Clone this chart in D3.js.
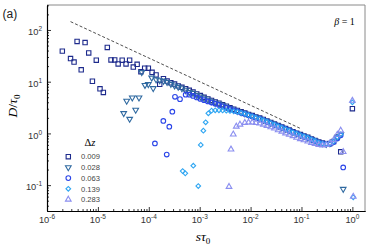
<!DOCTYPE html>
<html>
<head>
<meta charset="utf-8">
<script src="https://cdn.jsdelivr.net/npm/d3@7"></script>
<style>
  body { margin: 0; background: #fff; }
  svg { display: block; }
</style>
</head>
<body>
<div id="chart"></div>
<script>
// ---- values ----
const dzLabels = ["0.009", "0.028", "0.063", "0.139", "0.283"];

// early scattered points, [s*tau0, D/tau0]
const scatterA = [[2.0e-6, 39], [2.9e-6, 28], [3.4e-6, 24], [3.9e-6, 60], [4.7e-6, 17], [5.6e-6, 57],
  [6.6e-6, 36], [7.8e-6, 10.2], [9.3e-6, 26], [1.1e-5, 7.3], [1.28e-5, 6.2], [1.53e-5, 46],
  [1.81e-5, 26.3], [2.14e-5, 26.3], [2.5e-5, 22], [3.0e-5, 26], [3.57e-5, 22], [4.2e-5, 26],
  [4.96e-5, 19.2], [5.9e-5, 21.7], [7.0e-5, 15.6], [8.3e-5, 18.2], [9.8e-5, 18.2], [1.16e-4, 15.2]];
const scatterB = [[3.21e-5, 2.45], [3.68e-5, 4.24], [4.21e-5, 1.9], [4.74e-5, 4.9], [5.53e-5, 2.84],
  [6.42e-5, 4.9], [7.26e-5, 15.2], [8.42e-5, 8.6], [9.77e-5, 8.9], [1.14e-4, 11.9], [1.22e-4, 7.45]];
const scatterC = [[1.32e-4, 0.64], [1.93e-4, 1.74], [2.25e-4, 0.39], [2.53e-4, 1.35], [2.9e-4, 2.63],
  [3.27e-4, 5.1], [4.1e-4, 4.6]];
const scatterD = [[4.63e-4, 0.187], [5.21e-4, 0.169], [7.49e-4, 0.237], [9.38e-4, 0.096], [1.05e-3, 0.6],
  [1.18e-3, 1.13], [1.31e-3, 1.64], [1.48e-3, 2.45]];
const scatterE = [[3.77e-3, 0.093], [4.12e-3, 0.49], [4.57e-3, 0.96], [5.24e-3, 1.36], [6.19e-3, 1.49]];

// later points on a shared s grid
const sGrid = [1.39e-4, 1.64e-4, 1.94e-4, 2.29e-4, 2.71e-4, 3.21e-4, 3.79e-4, 4.48e-4, 5.30e-4, 6.25e-4,
  7.40e-4, 8.75e-4, 1.03e-3, 1.22e-3, 1.45e-3, 1.71e-3, 2.02e-3, 2.39e-3, 2.82e-3, 3.34e-3,
  3.94e-3, 4.67e-3, 5.51e-3, 6.52e-3, 7.71e-3, 9.12e-3, 1.08e-2, 1.27e-2, 1.51e-2, 1.78e-2,
  2.10e-2, 2.49e-2, 2.94e-2, 3.48e-2, 4.11e-2, 4.86e-2, 5.74e-2, 6.79e-2, 8.03e-2, 9.49e-2,
  0.112, 0.133, 0.157, 0.185, 0.219, 0.259, 0.306, 0.362, 0.428, 0.506,
  0.59, 0.66, 1.0, 1.04];
const bandA = [13.5, 8.9, 11.4, 10.3, 9.5, 9.0, 8.3, 7.8, 7.3, 6.8,
  6.3, 5.8, 5.4, 5.0, 4.65, 4.35, 4.05, 3.85, 3.6, 3.36,
  3.14, 2.94, 2.78, 2.62, 2.48, 2.33, 2.21, 2.08, 1.98, 1.86,
  1.74, 1.63, 1.52, 1.42, 1.33, 1.24, 1.16, 1.08, 1.01, 0.95,
  0.89, 0.84, 0.78, 0.73, 0.68, 0.65, 0.63, 0.64, 0.70, 0.85,
  0.44, null, 3.0, null];
const bandB = [11.0, 10.6, 10.3, 9.8, 9.0, 8.4, 7.9, 7.4, 6.8, 6.3,
  6.0, 5.5, 5.1, 4.75, 4.45, 4.15, 3.9, 3.7, 3.46, 3.24,
  3.03, 2.84, 2.70, 2.54, 2.42, 2.27, 2.16, 2.03, 1.93, 1.81,
  1.70, 1.59, 1.49, 1.39, 1.30, 1.22, 1.14, 1.06, 0.99, 0.93,
  0.88, 0.82, 0.77, 0.72, 0.67, 0.64, 0.62, 0.64, 0.70, 0.84,
  0.96, 0.084, null, null];
const bandC = [null, null, null, null, null, null, null, null, 5.6, 5.6,
  5.3, 4.95, 4.65, 4.4, 4.15, 3.95, 3.75, 3.55, 3.35, 3.15,
  2.97, 2.80, 2.66, 2.50, 2.38, 2.24, 2.13, 2.00, 1.90, 1.79,
  1.68, 1.57, 1.47, 1.37, 1.29, 1.21, 1.13, 1.05, 0.985, 0.92,
  0.87, 0.82, 0.76, 0.71, 0.665, 0.635, 0.615, 0.625, 0.68, 0.80,
  0.92, 0.22, null, null];
const bandD = [null, null, null, null, null, null, null, null, null, null,
  null, null, null, null, null, 2.75, 2.8, 2.8, 2.78, 2.75,
  2.72, 2.68, 2.62, 2.50, 2.39, 2.25, 2.14, 2.01, 1.92, 1.80,
  1.69, 1.58, 1.48, 1.38, 1.29, 1.21, 1.13, 1.05, 0.99, 0.925,
  0.875, 0.825, 0.765, 0.715, 0.665, 0.635, 0.62, 0.635, 0.70, 0.84,
  0.96, null, 4.0, 0.058];
const bandE = [null, null, null, null, null, null, null, null, null, null,
  null, null, null, null, null, null, null, null, null, null,
  null, null, null, null, 1.61, 1.63, 1.63, 1.60, 1.56, 1.49,
  1.41, 1.32, 1.25, 1.16, 1.09, 1.01, 0.95, 0.89, 0.83, 0.78,
  0.74, 0.70, 0.66, 0.63, 0.60, 0.59, 0.60, 0.65, 0.745, 0.95,
  1.14, 0.44, 4.3, 0.06];

// dashed guide line
const guideS = [2.9e-6, 0.093];
const guideD = [145, 1.26];

const xMajor = [1e-6, 1e-5, 1e-4, 1e-3, 1e-2, 1e-1, 1e0];
const yMajor = [1e-1, 1e0, 1e1, 1e2];

// ---- chart ----
const width = 374, height = 249;
const svg = d3.select("#chart").append("svg")
  .attr("width", width).attr("height", height)
  .attr("font-family", "'Liberation Sans', Arial, sans-serif");

const x = d3.scaleLog().domain([1e-6, 1.77]).range([47, 365]);
const y = d3.scaleLog().domain([0.0316, 304]).range([211, 5]);

const colors = ["#1d2a8c", "#2f69a0", "#2b45e8", "#2fa6f2", "#8b8ff0"];
const shapes = [
  { type: d3.symbolSquare, size: 19, rot: 0 },
  { type: d3.symbolTriangle, size: 14, rot: 180 },
  { type: d3.symbolCircle, size: 17, rot: 0 },
  { type: d3.symbolSquare, size: 11, rot: 45 },
  { type: d3.symbolTriangle, size: 14, rot: 0 }
];

// frame (top/right)
svg.append("path")
  .attr("d", `M${x.range()[0]},${y.range()[1]}H${x.range()[1]}V${y.range()[0]}`)
  .attr("fill", "none").attr("stroke", "#8a8a8a").attr("stroke-width", 1);

// minor tick values
const xMinor = [], yMinor = [];
for (let e = -6; e <= 0; e++) for (let m = 2; m <= 9; m++) {
  const v = m * Math.pow(10, e);
  if (v <= 1.77) xMinor.push(v);
}
for (let e = -2; e <= 2; e++) for (let m = 2; m <= 9; m++) {
  const v = m * Math.pow(10, e);
  if (v >= 0.0316 && v <= 304) yMinor.push(v);
}

const gx = svg.append("g").attr("transform", "translate(0,211)");
gx.call(d3.axisBottom(x).tickValues(xMinor).tickSize(-2).tickSizeOuter(0).tickFormat(""));
gx.call(g => g.append("g").call(d3.axisBottom(x).tickValues(xMajor).tickSize(-4).tickSizeOuter(0).tickFormat("")));
const gy = svg.append("g").attr("transform", "translate(47,0)");
gy.call(d3.axisLeft(y).tickValues(yMinor).tickSize(-2).tickSizeOuter(0).tickFormat(""));
gy.call(g => g.append("g").call(d3.axisLeft(y).tickValues(yMajor).tickSize(-4).tickSizeOuter(0).tickFormat("")));
svg.selectAll(".domain").attr("stroke", "#000").attr("stroke-width", 1.1);
svg.selectAll(".tick line").attr("stroke", "#000").attr("stroke-width", 0.8);

// power-of-ten labels
function powLabel(sel, exp) {
  sel.append("tspan").text("10");
  sel.append("tspan").attr("dy", -4).attr("font-size", 6.5).text(exp);
}
xMajor.forEach(v => {
  const t = svg.append("text").attr("x", x(v)).attr("y", 223.3)
    .attr("text-anchor", "middle").attr("font-size", 9.3).attr("fill", "#333");
  powLabel(t, String(Math.round(Math.log10(v))));
});
yMajor.forEach(v => {
  const t = svg.append("text").attr("x", 42).attr("y", y(v) + 5.2)
    .attr("text-anchor", "end").attr("font-size", 9.3).attr("fill", "#333");
  powLabel(t, String(Math.round(Math.log10(v))));
});

// dashed guide
svg.append("line")
  .attr("x1", x(guideS[0])).attr("y1", y(guideD[0]))
  .attr("x2", x(guideS[1])).attr("y2", y(guideD[1]))
  .attr("stroke", "#222").attr("stroke-width", 0.8).attr("stroke-dasharray", "3,2");

// series
const scatters = [scatterA, scatterB, scatterC, scatterD, scatterE];
const bands = [bandA, bandB, bandC, bandD, bandE];

function symbolPath(i) {
  return d3.symbol().type(shapes[i].type).size(shapes[i].size)();
}

scatters.forEach((sc, i) => {
  const pts = sc.concat(sGrid.map((s, j) => [s, bands[i][j]]).filter(d => d[1] != null));
  svg.append("g").selectAll("path")
    .data(pts)
    .join("path")
    .attr("d", symbolPath(i))
    .attr("transform", d => `translate(${x(d[0])},${y(d[1])}) rotate(${shapes[i].rot})`)
    .attr("fill", "none")
    .attr("stroke", colors[i])
    .attr("stroke-width", 1.1);
});

// legend
const leg = svg.append("g");
leg.append("text").attr("x", 90).attr("y", 146).attr("text-anchor", "middle")
  .attr("font-family", "'Liberation Serif', 'Times New Roman', serif").attr("font-size", 10.5)
  .call(t => { t.append("tspan").text("Δ"); t.append("tspan").attr("font-style", "italic").text("z"); });
dzLabels.forEach((lab, i) => {
  const ry = 156.7 + i * 10.7;
  leg.append("path").attr("d", symbolPath(i))
    .attr("transform", `translate(68.3,${ry}) rotate(${shapes[i].rot})`)
    .attr("fill", "none").attr("stroke", colors[i]).attr("stroke-width", 1.1);
  leg.append("text").attr("x", 81).attr("y", ry + 2.7)
    .attr("font-size", 7.6).attr("fill", "#444").text(lab);
});

// axis titles
const serif = "'Liberation Serif', 'Times New Roman', serif";
svg.append("text").attr("transform", "translate(17,106) rotate(-90)")
  .attr("text-anchor", "middle").attr("font-family", serif).attr("font-size", 13.5)
  .call(t => {
    t.append("tspan").attr("font-style", "italic").text("D");
    t.append("tspan").text("/");
    t.append("tspan").attr("font-style", "italic").text("τ");
    t.append("tspan").attr("font-size", 9).attr("dy", 3).text("0");
  });
svg.append("text").attr("x", 203).attr("y", 241)
  .attr("text-anchor", "middle").attr("font-family", serif).attr("font-size", 13.5)
  .call(t => {
    t.append("tspan").attr("font-style", "italic").text("sτ");
    t.append("tspan").attr("font-size", 9).attr("dy", 3).text("0");
  });

// panel label and parameter
svg.append("text").attr("x", 2.5).attr("y", 18).attr("font-size", 12).attr("fill", "#222").text("(a)");
svg.append("text").attr("x", 344.5).attr("y", 24.5).attr("text-anchor", "middle")
  .attr("font-family", serif).attr("font-size", 10)
  .call(t => {
    t.append("tspan").attr("font-style", "italic").text("β");
    t.append("tspan").text(" = 1");
  });
</script>
</body>
</html>
